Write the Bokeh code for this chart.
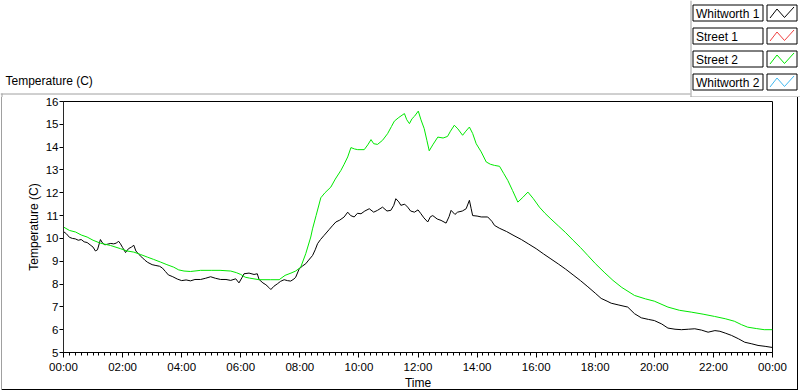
from bokeh.plotting import figure
from bokeh.models import FixedTicker, BoxAnnotation
from bokeh.core.properties import value
from bokeh.embed import file_html
from bokeh.resources import INLINE

# ---------------- data ----------------
TICK_HOURS = [0, 2, 4, 6, 8, 10, 12, 14, 16, 18, 20, 22, 24]
TICK_LABELS = ["00:00", "02:00", "04:00", "06:00", "08:00", "10:00", "12:00",
               "14:00", "16:00", "18:00", "20:00", "22:00", "00:00"]
Y_TICKS = [5, 6, 7, 8, 9, 10, 11, 12, 13, 14, 15, 16]

CHART_TITLE = "Temperature (C)"
X_LABEL = "Time"
Y_LABEL = "Temperature (C)"
SERIES_NAMES = ["Whitworth 1", "Street 1", "Street 2", "Whitworth 2"]
SERIES_COLORS = ["#000000", "#f04040", "#00e800", "#40b8f0"]

whitworth1_t = [0.00, 0.10, 0.20, 0.30, 0.40, 0.50, 0.60, 0.70, 0.80, 0.90, 1.00, 1.08, 1.15,
                1.25, 1.32, 1.40, 1.50, 1.60, 1.70, 1.80, 1.86, 1.92, 2.00, 2.10, 2.20, 2.30,
                2.38, 2.45, 2.55, 2.65, 2.75, 2.85, 3.00, 3.10, 3.25, 3.35, 3.45, 3.55, 3.70,
                3.85, 4.00, 4.15, 4.30, 4.45, 4.64, 4.80, 4.98, 5.15, 5.32, 5.50, 5.66, 5.83,
                5.94, 6.05, 6.11, 6.28, 6.45, 6.56, 6.62, 6.75, 6.85, 6.95, 7.02, 7.12, 7.24,
                7.35, 7.47, 7.58, 7.69, 7.80, 7.86, 7.98, 8.10, 8.20, 8.30, 8.43, 8.52, 8.60,
                8.70, 8.82, 9.00, 9.10, 9.22, 9.35, 9.50, 9.62, 9.72, 9.84, 9.95, 10.07, 10.20,
                10.35, 10.50, 10.63, 10.80, 10.95, 11.08, 11.18, 11.25, 11.35, 11.42, 11.55,
                11.65, 11.75, 11.88, 12.00, 12.10, 12.20, 12.33, 12.42, 12.50, 12.65, 12.78,
                12.95, 13.05, 13.12, 13.25, 13.34, 13.50, 13.63, 13.74, 13.80, 13.85, 14.00,
                14.14, 14.36, 14.50, 14.59, 14.75, 15.00, 15.25, 15.50, 15.75, 16.00, 16.25,
                16.50, 16.75, 17.00, 17.25, 17.50, 17.75, 18.00, 18.20, 18.40, 18.54, 18.80,
                19.10, 19.33, 19.56, 19.80, 20.00, 20.25, 20.46, 20.70, 20.92, 21.15, 21.37,
                21.60, 21.82, 22.05, 22.22, 22.40, 22.61, 22.85, 23.06, 23.30, 23.51, 23.75,
                24.00]
whitworth1_v = [10.30, 10.20, 10.05, 10.00, 9.98, 9.92, 9.95, 9.85, 9.82, 9.72, 9.62, 9.45, 9.50,
                9.95, 9.80, 9.72, 9.75, 9.78, 9.76, 9.80, 9.88, 9.78, 9.60, 9.38, 9.55, 9.62,
                9.70, 9.45, 9.30, 9.18, 9.05, 8.95, 8.85, 8.82, 8.78, 8.70, 8.55, 8.40, 8.32,
                8.22, 8.15, 8.18, 8.14, 8.20, 8.20, 8.25, 8.32, 8.25, 8.20, 8.20, 8.16, 8.23,
                8.05, 8.30, 8.45, 8.48, 8.42, 8.45, 8.20, 8.05, 7.97, 7.85, 7.76, 7.90, 8.01,
                8.12, 8.19, 8.15, 8.13, 8.22, 8.30, 8.67, 8.80, 8.89, 9.05, 9.25, 9.50, 9.77,
                9.95, 10.13, 10.40, 10.55, 10.72, 10.80, 10.94, 11.15, 11.00, 10.94, 11.10, 11.08, 11.20,
                11.30, 11.15, 11.23, 11.37, 11.20, 11.23, 11.45, 11.74, 11.60, 11.45, 11.50,
                11.37, 11.20, 11.15, 11.25, 11.08, 10.90, 10.72, 10.95, 11.00, 10.85, 10.79,
                10.67, 10.95, 11.23, 11.05, 11.15, 11.20, 11.30, 11.67, 11.30, 11.00, 10.98,
                10.94, 10.94, 10.75, 10.57, 10.45, 10.30, 10.12, 9.95, 9.75, 9.55, 9.32,
                9.10, 8.88, 8.65, 8.40, 8.15, 7.88, 7.60, 7.37, 7.25, 7.16, 7.08,
                6.99, 6.70, 6.52, 6.45, 6.40, 6.25, 6.07, 6.02, 6.00, 6.02, 6.04,
                5.98, 5.89, 5.96, 5.93, 5.85, 5.75, 5.60, 5.45, 5.38, 5.31, 5.27,
                5.22]

street2_t = [0.00, 0.20, 0.41, 0.60, 0.80, 1.00, 1.25, 1.59, 1.93, 2.15, 2.38, 2.60, 2.84, 3.05,
             3.29, 3.50, 3.73, 3.90, 4.08, 4.30, 4.64, 5.00, 5.30, 5.66, 5.85, 6.00, 6.15, 6.30,
             6.62, 7.00, 7.30, 7.50, 7.70, 7.86, 8.03, 8.20, 8.37, 8.43, 8.55, 8.71, 8.85, 9.05,
             9.20, 9.39, 9.50, 9.62, 9.73, 9.85, 9.96, 10.18, 10.30, 10.41, 10.50, 10.63, 10.80,
             10.97, 11.10, 11.20, 11.35, 11.54, 11.62, 11.71, 11.80, 11.88, 12.01, 12.10, 12.21,
             12.30, 12.38, 12.50, 12.67, 12.85, 13.00, 13.10, 13.23, 13.35, 13.51, 13.62, 13.74,
             13.85, 13.97, 14.14, 14.31, 14.45, 14.59, 14.76, 14.90, 15.04, 15.20, 15.38, 15.55,
             15.72, 15.90, 16.11, 16.30, 16.50, 16.75, 17.00, 17.25, 17.50, 17.75, 18.00, 18.30,
             18.60, 18.90, 19.33, 19.70, 20.00, 20.46, 20.85, 21.25, 21.65, 22.04, 22.40, 22.71,
             22.95, 23.16, 23.45, 23.72, 24.00]
street2_v = [10.50, 10.35, 10.28, 10.15, 10.06, 9.92, 9.79, 9.69, 9.55, 9.45, 9.40, 9.30, 9.18, 9.08,
             8.96, 8.85, 8.74, 8.62, 8.57, 8.55, 8.60, 8.60, 8.60, 8.57, 8.50, 8.42, 8.30, 8.26,
             8.19, 8.19, 8.19, 8.38, 8.48, 8.57, 8.74, 9.33, 10.06, 10.42, 11.00, 11.78, 12.00, 12.25,
             12.60, 12.98, 13.25, 13.57, 13.98, 13.92, 13.89, 13.89, 14.10, 14.33, 14.15, 14.12, 14.30,
             14.59, 14.90, 15.14, 15.30, 15.47, 15.20, 15.03, 15.25, 15.35, 15.58, 15.20, 14.81,
             14.30, 13.84, 14.10, 14.44, 14.40, 14.47, 14.70, 14.96, 14.80, 14.52, 14.70, 14.88,
             14.60, 14.15, 13.79, 13.35, 13.25, 13.20, 13.16, 12.85, 12.54, 12.10, 11.59, 11.80,
             12.03, 11.75, 11.37, 11.10, 10.85, 10.55, 10.25, 9.92, 9.60, 9.25, 8.90, 8.52,
             8.16, 7.85, 7.50, 7.35, 7.25, 6.99, 6.85, 6.77, 6.68, 6.58, 6.48, 6.37,
             6.22, 6.11, 6.05, 6.00, 6.00]

# ---------------- layout ----------------
W = 800
HEAD_H = 97
MAIN_H = 392 - HEAD_H
FONT = "Liberation Sans"
GREY = "#a0a0a0"

# ---- header strip: chart caption + legend (pixel coordinate space) ----
head = figure(width=W, height=HEAD_H, output_backend="svg", toolbar_location=None,
              x_range=(0, W), y_range=(HEAD_H, 0),
              x_axis_location=None, y_axis_location=None,
              min_border_left=0, min_border_right=0, min_border_top=0, min_border_bottom=0)
head.outline_line_color = None
head.xgrid.visible = False
head.ygrid.visible = False
head.background_fill_color = "white"
head.border_fill_color = "white"

head.text(x=[5], y=[80], text=[CHART_TITLE], text_font=value(FONT), text_font_size="12px",
          text_color="black", text_baseline="middle", text_align="left")

# panel frame lines
head.segment(x0=[0, 1.5, 690.5, 690], y0=[93.5, 93, 0, 96.5],
             x1=[690, 1.5, 690.5, W], y1=[93.5, HEAD_H, 96.5, 96.5],
             line_color=GREY, line_width=1)

# legend entries: text box + swatch box with zigzag
row_tops = [4.5, 27.5, 50.5, 73.5]
head.quad(left=[692.5] * 4, right=[762.5] * 4, top=row_tops, bottom=[t + 16 for t in row_tops],
          fill_color="white", line_color="black", line_width=1)
head.quad(left=[766.5] * 4, right=[796.5] * 4, top=row_tops, bottom=[t + 16 for t in row_tops],
          fill_color="white", line_color="black", line_width=1)
head.text(x=[695.5] * 4, y=[t + 8.5 for t in row_tops], text=SERIES_NAMES,
          text_font=value(FONT), text_font_size="12px", text_color="black",
          text_baseline="middle", text_align="left")
zig_dx = [3, 10, 17.5, 27]
zig_dy = [13, 4, 12.5, 2]
head.multi_line(xs=[[766.5 + d for d in zig_dx] for _ in row_tops],
                ys=[[t + d for d in zig_dy] for t in row_tops],
                line_color=SERIES_COLORS, line_width=1)

# ---- main chart ----
p = figure(width=W, height=MAIN_H, output_backend="svg", toolbar_location=None,
           x_range=(0, 24), y_range=(5, 16),
           min_border_left=63, min_border_right=28, min_border_top=4, min_border_bottom=40)
p.background_fill_color = "white"
p.border_fill_color = "white"
p.border_fill_alpha = 0
p.styles = {
    "background-color": "white",
    "box-shadow": ("inset 1px 0 0 0 #ffffff, inset -2px 0 0 0 #ffffff, inset 0 -2px 0 0 #ffffff, "
                   "inset 2px 0 0 0 #a0a0a0, inset -3px 0 0 0 #000000, inset 0 -3px 0 0 #000000"),
}
p.outline_line_color = "black"
p.xgrid.visible = False
p.ygrid.visible = False

# grey right edge of the plot area
p.add_layout(BoxAnnotation(left=-1, right=0, left_units="screen", right_units="screen",
                           fill_color=GREY, fill_alpha=1, line_color=None))

p.line(whitworth1_t, whitworth1_v, line_color=SERIES_COLORS[0], line_width=1)
p.line(street2_t, street2_v, line_color=SERIES_COLORS[2], line_width=1)

xa = p.xaxis[0]
xa.ticker = FixedTicker(ticks=TICK_HOURS, minor_ticks=[i * 0.2 for i in range(121)])
xa.major_label_overrides = {h: lab for h, lab in zip(TICK_HOURS, TICK_LABELS)}
xa.axis_label = X_LABEL
xa.axis_label_text_font = FONT
xa.axis_label_text_font_size = "12px"
xa.axis_label_text_font_style = "normal"
xa.axis_label_text_color = "black"
xa.axis_label_standoff = 0
xa.major_label_text_font = FONT
xa.major_label_text_font_size = "11.5px"
xa.major_label_text_color = "black"
xa.major_label_standoff = 3
xa.major_tick_out = 5
xa.major_tick_in = 0
xa.minor_tick_out = 3
xa.minor_tick_in = 0
xa.axis_line_color = "black"
xa.major_tick_line_color = "black"
xa.minor_tick_line_color = "black"

ya = p.yaxis[0]
ya.ticker = FixedTicker(ticks=Y_TICKS, minor_ticks=[])
ya.axis_label = Y_LABEL
ya.axis_label_text_font = FONT
ya.axis_label_text_font_size = "12px"
ya.axis_label_text_font_style = "normal"
ya.axis_label_text_color = "black"
ya.axis_label_standoff = 2
ya.major_label_text_font = FONT
ya.major_label_text_font_size = "11.5px"
ya.major_label_text_color = "black"
ya.major_label_standoff = 1
ya.major_tick_out = 4
ya.major_tick_in = 0
ya.minor_tick_line_color = None
ya.axis_line_color = "black"

# two independent roots stacked in the page (keeps the header's pixel space unaligned)
open("out.html", "w").write(file_html([head, p], INLINE))
